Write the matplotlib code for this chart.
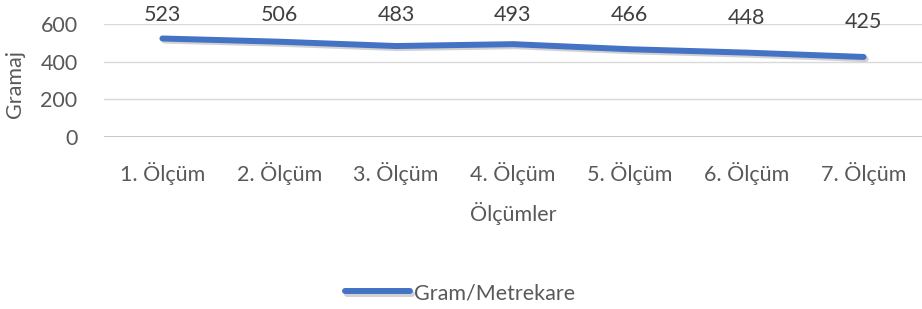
import matplotlib
matplotlib.use("Agg")
import matplotlib.pyplot as plt
import matplotlib.patheffects as pe
import numpy as np

categories = ["1. Ölçüm", "2. Ölçüm", "3. Ölçüm", "4. Ölçüm", "5. Ölçüm", "6. Ölçüm", "7. Ölçüm"]
values = [523, 506, 483, 493, 466, 448, 425]
yticks = [0, 200, 400, 600]
series_name = "Gram/Metrekare"

plt.rcParams['font.family'] = ['Lato', 'DejaVu Sans']
txt = "#595959"
blue = "#4472C4"
fs = 15.5

fig = plt.figure(figsize=(9.22, 3.09), dpi=100)
W, H = 922, 309
ax = fig.add_axes([104 / W, 1 - 137 / H, (922 - 104) / W, (137 - 24) / H])
x = np.arange(len(categories))
line, = ax.plot(x, values, color=blue, lw=4.3, solid_capstyle='round', solid_joinstyle='round',
                label=series_name, zorder=3,
                path_effects=[pe.SimpleLineShadow(offset=(1.5, -1.5), shadow_color='#000000', alpha=0.18),
                              pe.Normal()])
ax.set_xlim(-0.5, len(categories) - 0.5)
ax.set_ylim(0, 600)
ax.set_yticks(yticks)
ax.set_xticks(x)
ax.set_xticklabels(categories)
ax.tick_params(axis='both', length=0, colors=txt, labelsize=fs)
ax.tick_params(axis='y', pad=19)
ax.tick_params(axis='x', pad=18)
for s in ax.spines.values():
    s.set_visible(False)
ax.grid(axis='y', color='#D9D9D9', lw=1)
ax.axhline(0, color='#BFBFBF', lw=1.2, zorder=1)
ax.set_axisbelow(True)

# data labels: above points, kept within chart area
px_per_unit = (137 - 24) / 600
for xi, v in zip(x, values):
    ylab = min(v + 35 / px_per_unit, (137 - 15) / px_per_unit)
    ax.text(xi, ylab, str(v), ha='center', va='center', color='#404040', fontsize=fs, clip_on=False)

ax.set_xlabel("Ölçümler", color=txt, fontsize=fs, labelpad=12)
ax.set_ylabel("Gramaj", color=txt, fontsize=fs)
ax.yaxis.set_label_coords(-(104 - 25) / (922 - 104), 0.47)

leg = fig.legend(handles=[line], loc='center', bbox_to_anchor=(460 / W, 1 - 293 / H), frameon=False,
                 fontsize=fs, handlelength=3.0, handletextpad=0.2, labelcolor=txt)
fig.savefig("out.png", dpi=100, facecolor='white')
